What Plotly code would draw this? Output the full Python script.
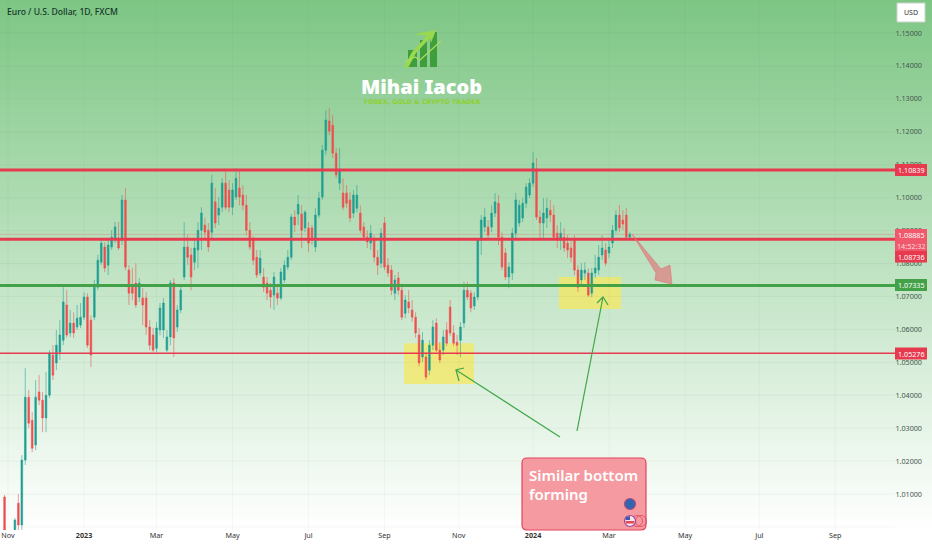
import plotly.graph_objects as go

WIDTH, HEIGHT, PLOT_H = 932, 550, 530

# Daily EUR/USD candles (every second trading bar)
open_prices = [
    1.0091,0.9975,1.0072,1.0006,1.0203,1.0394,1.0324,1.0249,1.0410,1.0385,
    1.0331,1.0400,1.0522,1.0498,1.0531,1.0567,1.0674,1.0589,1.0619,1.0607,
    1.0613,1.0637,1.0698,1.0628,1.0637,1.0728,1.0804,1.0850,1.0795,1.0850,
    1.0871,1.0877,1.0871,1.0993,1.0780,1.0734,1.0741,1.0698,1.0695,1.0695,
    1.0607,1.0583,1.0543,1.0598,1.0598,1.0537,1.0577,1.0741,1.0607,1.0659,
    1.0759,1.0850,1.0826,1.0804,1.0841,1.0901,1.0917,1.0901,1.0895,1.0987,
    1.0947,1.0971,1.1044,1.1023,1.0971,1.1002,1.1029,1.1008,1.0977,1.0901,
    1.0871,1.0819,1.0771,1.0759,1.0741,1.0719,1.0704,1.0710,1.0695,1.0750,
    1.0789,1.0819,1.0941,1.0950,1.0950,1.0908,1.0908,1.0908,1.0850,1.0947,
    1.1002,1.1144,1.1233,1.1220,1.1135,1.1044,1.1014,1.1014,1.0993,1.0953,
    1.0968,1.0953,1.0911,1.0880,1.0862,1.0871,1.0819,1.0801,1.0923,1.0795,
    1.0780,1.0710,1.0756,1.0719,1.0649,1.0683,1.0659,1.0637,1.0583,1.0516,
    1.0516,1.0476,1.0552,1.0619,1.0537,1.0537,1.0598,1.0668,1.0589,1.0561,
    1.0567,1.0619,1.0719,1.0710,1.0671,1.0698,1.0871,1.0911,1.0911,1.0911,
    1.0953,1.0983,1.0880,1.0832,1.0759,1.0771,1.0892,1.0923,1.0938,1.0983,
    1.1008,1.1044,1.1084,1.0941,1.0923,1.0938,1.0962,1.0947,1.0892,1.0871,
    1.0880,1.0862,1.0847,1.0871,1.0780,1.0750,1.0771,1.0771,1.0710,1.0771,
    1.0780,1.0826,1.0841,1.0832,1.0862,1.0901,1.0947,1.0932,1.0947,1.0880,
]
high_prices = [
    1.0097,1.0027,1.0100,1.0218,1.0482,1.0416,1.0349,1.0446,1.0461,1.0410,
    1.0470,1.0537,1.0552,1.0598,1.0628,1.0728,1.0719,1.0659,1.0652,1.0674,
    1.0680,1.0713,1.0710,1.0643,1.0750,1.0826,1.0871,1.0865,1.0877,1.0901,
    1.0926,1.0926,1.1008,1.1029,1.0795,1.0786,1.0801,1.0756,1.0725,1.0713,
    1.0628,1.0604,1.0622,1.0680,1.0695,1.0598,1.0750,1.0756,1.0674,1.0734,
    1.0926,1.0886,1.0847,1.0871,1.0926,1.0971,1.0938,1.0923,1.1069,1.1029,
    1.1002,1.1059,1.1078,1.1053,1.1044,1.1090,1.1084,1.1038,1.1008,1.0926,
    1.0883,1.0841,1.0841,1.0786,1.0759,1.0741,1.0774,1.0734,1.0786,1.0810,
    1.0841,1.0950,1.0962,1.1008,1.0977,1.0962,1.0926,1.0917,1.0968,1.1017,
    1.1160,1.1266,1.1272,1.1251,1.1151,1.1151,1.1059,1.1038,1.1017,1.1023,
    1.1038,1.0977,1.0926,1.0901,1.0917,1.0886,1.0841,1.0908,1.0941,1.0816,
    1.0795,1.0765,1.0774,1.0734,1.0704,1.0719,1.0689,1.0652,1.0604,1.0592,
    1.0531,1.0567,1.0628,1.0634,1.0561,1.0598,1.0622,1.0689,1.0613,1.0583,
    1.0622,1.0744,1.0744,1.0719,1.0713,1.0877,1.0947,1.0968,1.0932,1.0977,
    1.1014,1.1008,1.0895,1.0847,1.0804,1.0908,1.1014,1.0993,1.0999,1.1044,
    1.1059,1.1138,1.1120,1.0962,1.0999,1.0999,1.0993,1.0977,1.0917,1.0926,
    1.0908,1.0886,1.0871,1.0886,1.0795,1.0801,1.0804,1.0786,1.0786,1.0826,
    1.0856,1.0886,1.0862,1.0877,1.0917,1.0962,1.0977,1.0962,1.0968,1.0895,
]
low_prices = [
    0.9975,0.9966,0.9990,0.9990,1.0188,1.0300,1.0227,1.0233,1.0370,1.0288,
    1.0288,1.0391,1.0446,1.0476,1.0507,1.0552,1.0574,1.0577,1.0574,1.0598,
    1.0604,1.0628,1.0543,1.0485,1.0628,1.0719,1.0795,1.0774,1.0765,1.0841,
    1.0862,1.0841,1.0856,1.0780,1.0674,1.0689,1.0665,1.0683,1.0613,1.0583,
    1.0537,1.0531,1.0531,1.0583,1.0574,1.0531,1.0552,1.0516,1.0592,1.0649,
    1.0750,1.0795,1.0719,1.0780,1.0786,1.0841,1.0871,1.0835,1.0871,1.0908,
    1.0917,1.0956,1.0962,1.0956,1.0947,1.0993,1.0977,1.0962,1.0886,1.0841,
    1.0795,1.0756,1.0762,1.0713,1.0689,1.0665,1.0659,1.0674,1.0689,1.0741,
    1.0780,1.0810,1.0895,1.0917,1.0847,1.0895,1.0835,1.0856,1.0835,1.0938,
    1.0993,1.1129,1.1190,1.1120,1.1059,1.1023,1.0962,1.0968,1.0926,1.0938,
    1.0956,1.0892,1.0871,1.0847,1.0841,1.0804,1.0765,1.0786,1.0780,1.0759,
    1.0704,1.0689,1.0704,1.0628,1.0634,1.0649,1.0622,1.0574,1.0488,1.0501,
    1.0446,1.0461,1.0537,1.0531,1.0498,1.0522,1.0549,1.0580,1.0549,1.0522,
    1.0516,1.0604,1.0689,1.0652,1.0659,1.0689,1.0826,1.0895,1.0877,1.0895,
    1.0941,1.0856,1.0780,1.0750,1.0725,1.0750,1.0877,1.0911,1.0926,1.0968,
    1.0999,1.1032,1.0932,1.0877,1.0871,1.0908,1.0926,1.0871,1.0847,1.0841,
    1.0835,1.0816,1.0804,1.0765,1.0713,1.0734,1.0750,1.0698,1.0698,1.0756,
    1.0765,1.0810,1.0792,1.0816,1.0847,1.0892,1.0895,1.0901,1.0871,1.0871,
]
close_prices = [
    0.9990,1.0021,1.0006,1.0203,1.0394,1.0315,1.0239,1.0394,1.0385,1.0331,
    1.0400,1.0528,1.0461,1.0552,1.0583,1.0683,1.0583,1.0619,1.0589,1.0634,
    1.0637,1.0698,1.0552,1.0522,1.0728,1.0810,1.0862,1.0786,1.0856,1.0880,
    1.0911,1.0847,1.0993,1.0789,1.0710,1.0710,1.0674,1.0741,1.0674,1.0607,
    1.0552,1.0537,1.0604,1.0665,1.0680,1.0577,1.0741,1.0574,1.0659,1.0719,
    1.0850,1.0819,1.0759,1.0847,1.0901,1.0953,1.0895,1.0850,1.1044,1.0923,
    1.0968,1.1044,1.0971,1.0971,1.1023,1.1059,1.1002,1.0977,1.0901,1.0850,
    1.0810,1.0765,1.0816,1.0728,1.0710,1.0698,1.0759,1.0695,1.0774,1.0795,
    1.0819,1.0941,1.0917,1.0980,1.0901,1.0956,1.0862,1.0871,1.0947,1.0999,
    1.1144,1.1236,1.1202,1.1135,1.1069,1.1084,1.0971,1.0983,1.0938,1.1008,
    1.1008,1.0901,1.0880,1.0865,1.0892,1.0819,1.0795,1.0892,1.0789,1.0771,
    1.0719,1.0750,1.0719,1.0637,1.0689,1.0665,1.0637,1.0589,1.0498,1.0567,
    1.0455,1.0552,1.0607,1.0537,1.0507,1.0577,1.0558,1.0589,1.0558,1.0552,
    1.0607,1.0719,1.0698,1.0665,1.0698,1.0871,1.0932,1.0941,1.0886,1.0953,
    1.0987,1.0880,1.0789,1.0759,1.0789,1.0892,1.0993,1.0977,1.0983,1.1032,
    1.1044,1.1105,1.0941,1.0923,1.0953,1.0968,1.0947,1.0880,1.0871,1.0892,
    1.0847,1.0841,1.0819,1.0780,1.0728,1.0780,1.0780,1.0704,1.0771,1.0786,
    1.0819,1.0847,1.0801,1.0850,1.0901,1.0947,1.0908,1.0920,1.0880,1.0889,
]
bar_numbers = [-46] + list(range(-40, -40 + 2 * (len(close_prices) - 1), 2))

x_tick_bars = [-44, 0, 42, 86, 130, 174, 217, 260, 304, 348, 391, 435]
x_tick_labels = ["Nov", "<b>2023</b>", "Mar", "May", "Jul", "Sep", "Nov",
                 "<b>2024</b>", "Mar", "May", "Jul", "Sep"]
y_ticks = [1.00, 1.01, 1.02, 1.03, 1.04, 1.05, 1.06, 1.07, 1.08, 1.09, 1.10,
           1.11, 1.12, 1.13, 1.14, 1.15]

background_levels = [1.16, 1.12, 1.08, 1.04, 0.999]
background_shade = [0.0, 0.25, 0.5, 0.75, 1.0]

resistance_1 = 1.10839
resistance_2 = 1.08736
support_green = 1.07335
support_red = 1.05276
last_price = 1.08885

yellow_zones = [  # first bar, last bar, low price, high price
    (185.3, 225.8, 1.0434, 1.0558),
    (275, 311, 1.0662, 1.0759),
]

UP, DOWN = "#1f9e92", "#ee4f50"
UP_WICK, DOWN_WICK = "rgba(31,158,146,0.55)", "rgba(238,79,80,0.55)"
RED, GREEN = "#e83a4e", "#43a148"
X_RANGE = [-48.64, 491.0]
Y_RANGE = [0.99907, 1.16002]


def fx(px):
    return px / WIDTH


def fy(py):
    return 1 - py / PLOT_H


def path(points, close=False):
    d = "M" + " L".join(f"{fx(a):.5f},{fy(b):.5f}" for a, b in points)
    return d + (" Z" if close else "")


fig = go.Figure()

fig.add_trace(go.Heatmap(
    x=X_RANGE, y=background_levels,
    z=[[s, s] for s in background_shade],
    zmin=0, zmax=1, zsmooth="best", showscale=False, hoverinfo="skip",
    colorscale=[[0, "rgb(125,198,132)"], [1, "rgb(255,255,255)"]],
))

for first, last, low, high in yellow_zones:
    fig.add_trace(go.Bar(
        x=[(first + last) / 2], y=[high - low], base=[low], width=[last - first],
        marker=dict(color="rgba(243,232,100,0.78)", line=dict(width=0)),
        hoverinfo="skip", showlegend=False,
    ))

fig.add_trace(go.Candlestick(
    x=bar_numbers, open=open_prices, high=high_prices,
    low=low_prices, close=close_prices,
    increasing=dict(line=dict(color=UP_WICK, width=1), fillcolor=UP),
    decreasing=dict(line=dict(color=DOWN_WICK, width=1), fillcolor=DOWN),
    whiskerwidth=0, hoverinfo="skip", showlegend=False,
))

shapes = []
END = fx(895)

# faint grid
for tick in y_ticks:
    shapes.append(dict(type="line", xref="paper", yref="y", x0=0, x1=END, y0=tick, y1=tick,
                       line=dict(color="rgba(100,130,100,0.07)", width=1)))
for bar in x_tick_bars:
    shapes.append(dict(type="line", xref="x", yref="paper", x0=bar, x1=bar, y0=0, y1=1,
                       line=dict(color="rgba(100,130,100,0.05)", width=1)))

# horizontal levels
shapes.append(dict(type="line", xref="paper", yref="y", x0=0, x1=END, y0=last_price, y1=last_price,
                   line=dict(color="rgba(232,90,90,0.3)", width=1)))
for level, colour, w in [(resistance_1, RED, 3), (resistance_2, RED, 3),
                         (support_green, GREEN, 3), (support_red, RED, 1.6)]:
    shapes.append(dict(type="line", xref="paper", yref="y", x0=0, x1=END, y0=level, y1=level,
                       line=dict(color=colour, width=w)))

# price-label boxes
for top, bottom, colour in [(164, 176, RED), (229, 251, "#f0586c"), (251, 262.5, RED),
                            (279, 291, GREEN), (347.5, 359.5, RED)]:
    shapes.append(dict(type="rect", xref="paper", yref="paper",
                       x0=fx(895), x1=fx(927), y0=fy(bottom), y1=fy(top),
                       fillcolor=colour, line=dict(width=0)))

# USD button
shapes.append(dict(type="rect", xref="paper", yref="paper", x0=fx(897), x1=fx(925),
                   y0=fy(22), y1=fy(3), fillcolor="white",
                   line=dict(color="#c9d4cc", width=1)))

# green arrows
for start, tip, barb1, barb2 in [((560, 437), (456, 370), (464, 368), (459, 381)),
                                 ((577, 431), (603, 297), (597, 303), (608, 305))]:
    shapes.append(dict(type="path", xref="paper", yref="paper", path=path([start, tip]),
                       line=dict(color="#3fa648", width=1.2)))
    shapes.append(dict(type="path", xref="paper", yref="paper", path=path([barb1, tip, barb2]),
                       line=dict(color="#3fa648", width=1.2)))

# red projected arrow
shapes.append(dict(type="path", xref="paper", yref="paper",
                   path=path([(632, 234), (661, 269), (670, 265), (672, 284), (655, 280),
                              (656, 273)], close=True),
                   fillcolor="rgba(226,110,115,0.62)", line=dict(color="rgba(226,110,115,0.7)", width=0.8)))

# note box with rounded corners
L, R, T, B, C = 522, 646, 458, 530, 5
shapes.append(dict(type="path", xref="paper", yref="paper",
                   path=(f"M{fx(L + C):.5f},{fy(T):.5f} L{fx(R - C):.5f},{fy(T):.5f} "
                         f"Q{fx(R):.5f},{fy(T):.5f} {fx(R):.5f},{fy(T + C):.5f} "
                         f"L{fx(R):.5f},{fy(B - C):.5f} Q{fx(R):.5f},{fy(B):.5f} {fx(R - C):.5f},{fy(B):.5f} "
                         f"L{fx(L + C):.5f},{fy(B):.5f} Q{fx(L):.5f},{fy(B):.5f} {fx(L):.5f},{fy(B - C):.5f} "
                         f"L{fx(L):.5f},{fy(T + C):.5f} Q{fx(L):.5f},{fy(T):.5f} {fx(L + C):.5f},{fy(T):.5f} Z"),
                   fillcolor="#f59aa0", line=dict(color="#e2455c", width=1.2)))


def circle(cx, cy, r, fill, line, w=1):
    shapes.append(dict(type="circle", xref="paper", yref="paper",
                       x0=fx(cx - r), x1=fx(cx + r), y0=fy(cy + r), y1=fy(cy - r),
                       fillcolor=fill, line=dict(color=line, width=w)))


circle(641, 521, 5.5, "rgba(0,0,0,0)", "#e2455c", 0.8)
circle(637, 521, 5.5, "rgba(0,0,0,0)", "#e2455c", 0.8)
circle(630, 504, 5.5, "#2f66b0", "#b84a78", 1.2)
circle(630, 521, 5.5, "#f7e6e8", "#a0449a", 1.2)
shapes.append(dict(type="path", xref="paper", yref="paper", fillcolor="#e24a58",
                   line=dict(width=0),
                   path=path([(625.5, 521), (634.5, 521), (634, 523.5), (626, 523.5)], close=True)))
shapes.append(dict(type="path", xref="paper", yref="paper", fillcolor="#3c5aa8",
                   line=dict(width=0),
                   path=path([(626, 517), (630, 516), (630, 520), (625.5, 520)], close=True)))

# logo
for x0, x1, top in [(408, 417, 50), (420, 427, 40), (430, 437, 32)]:
    shapes.append(dict(type="rect", xref="paper", yref="paper",
                       x0=fx(x0), x1=fx(x1), y0=fy(67), y1=fy(top),
                       fillcolor="#3f9e3c", line=dict(width=0)))
shapes.append(dict(type="path", xref="paper", yref="paper", fillcolor="#9ad84f",
                   line=dict(width=0),
                   path=path([(404, 67), (412, 52), (427, 36), (415, 34), (436, 30), (431, 43),
                              (430, 38), (416, 53), (408, 68)], close=True)))
shapes.append(dict(type="path", xref="paper", yref="paper",
                   path=path([(405, 62), (415, 57), (420, 60), (441, 41)]),
                   line=dict(color="#a7dd5b", width=1.2)))

annotations = [
    dict(text="Euro / U.S. Dollar, 1D, FXCM", x=fx(5), y=fy(11.5), xanchor="left",
         font=dict(size=8.6, color="#15362a", family="Noto Sans", weight=500)),
    dict(text="USD", x=fx(911), y=fy(12.5), font=dict(size=7, color="#333", family="Noto Sans")),
    dict(text="Mihai Iacob", x=fx(421), y=fy(87),
         font=dict(size=20, color="white", family="Noto Sans", weight=900)),
    dict(text="<b>FOREX, GOLD &amp; CRYPTO TRADER</b>", x=fx(422), y=fy(101.5),
         font=dict(size=6.3, color="#8fd02e", family="DejaVu Sans")),
    dict(text="1.10839", x=fx(911), y=fy(170), font=dict(size=7.2, color="white", family="Noto Sans")),
    dict(text="1.08885", x=fx(911), y=fy(235), font=dict(size=7.2, color="white", family="Noto Sans")),
    dict(text="14:52:32", x=fx(911), y=fy(245.5), font=dict(size=7.2, color="#ffd9dd", family="Noto Sans")),
    dict(text="1.08736", x=fx(911), y=fy(257), font=dict(size=7.2, color="white", family="Noto Sans")),
    dict(text="1.07335", x=fx(911), y=fy(285), font=dict(size=7.2, color="white", family="Noto Sans")),
    dict(text="1.05276", x=fx(911), y=fy(353.5), font=dict(size=7.2, color="white", family="Noto Sans")),
    dict(text="Similar bottom", x=fx(527), y=fy(474.5), xanchor="left",
         font=dict(size=15, color="white", family="Noto Sans", weight=600)),
    dict(text="forming", x=fx(527), y=fy(493.5), xanchor="left",
         font=dict(size=15, color="white", family="Noto Sans", weight=600)),
]
for a in annotations:
    a.update(xref="paper", yref="paper", showarrow=False, yanchor="middle")
    a.setdefault("xanchor", "center")

fig.update_layout(
    width=WIDTH, height=HEIGHT,
    margin=dict(l=0, r=0, t=0, b=HEIGHT - PLOT_H, pad=0),
    paper_bgcolor="white", plot_bgcolor="white",
    showlegend=False, barmode="overlay", dragmode=False,
    shapes=shapes, annotations=annotations,
    xaxis=dict(range=X_RANGE, tickmode="array", tickvals=x_tick_bars, ticktext=x_tick_labels,
               showgrid=False, zeroline=False, showline=False, ticks="",
               rangeslider=dict(visible=False),
               tickfont=dict(size=7.2, color="#333", family="Noto Sans")),
    yaxis=dict(range=Y_RANGE, side="right", tickmode="array", tickvals=y_ticks,
               tickformat=".5f", ticklabelposition="inside", ticklabelstandoff=7,
               showgrid=False, zeroline=False, showline=False, ticks="",
               tickfont=dict(size=7.2, color="#45564c", family="Noto Sans")),
)

fig.write_html("out.html", config={"displayModeBar": False},
               post_script="document.body.style.margin='0';")
